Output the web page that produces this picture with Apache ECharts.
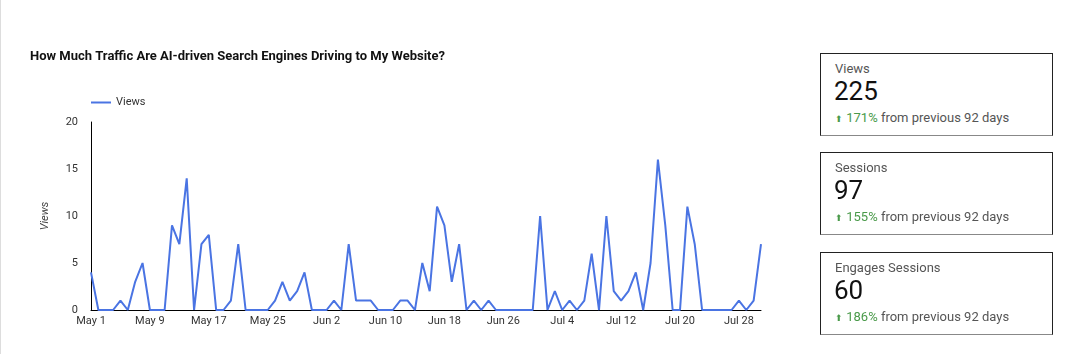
<!DOCTYPE html>
<html>
<head>
<meta charset="utf-8">
<script src="https://cdn.jsdelivr.net/npm/echarts@6/dist/echarts.min.js"></script>
<style>
  html, body { margin: 0; padding: 0; background: #fff; }
  body { width: 1082px; height: 354px; position: relative; overflow: hidden; font-family: Roboto, "Noto Sans", sans-serif; }
  #chart { position: absolute; left: 0; top: 0; width: 1082px; height: 354px; }
  .edge { position: absolute; left: 0; top: 0; width: 1px; height: 354px; background: #ddd; }
  .card { position: absolute; left: 820px; width: 233px; height: 83px; border: 1px solid #222; border-bottom-color: #888; box-sizing: border-box; background: #fff; }
  .card .label { position: absolute; left: 14px; top: 7px; font-size: 13px; color: #555; }
  .card .value { position: absolute; left: 13px; top: 22px; font-size: 26px; color: #111; }
  .card .delta { position: absolute; left: 14px; top: 56px; font-size: 13px; color: #555; white-space: nowrap; }
  .card .delta .up { color: #4a9a4a; }
  .card .delta .arr { color: #4a9a4a; font-size: 9px; }
</style>
</head>
<body>
<div class="edge"></div>
<div id="chart"></div>
<div id="cards"></div>
<script>
// month name and day count for the x categories (May 1 .. Jul 31)
const months = [['May', 31], ['Jun', 30], ['Jul', 31]]
const days = []
months.forEach(([m, n]) => { for (let d = 1; d <= n; d++) days.push(m + ' ' + d) })

const views = [
  4, 0, 0, 0, 1, 0, 3, 5, 0, 0, 0, 9, 7, 14, 0, 7, 8, 0, 0, 1, 7, 0, 0, 0, 0, 1, 3, 1, 2, 4, 0,
  0, 0, 1, 0, 7, 1, 1, 1, 0, 0, 0, 1, 1, 0, 5, 2, 11, 9, 3, 7, 0, 1, 0, 1, 0, 0, 0, 0, 0, 0,
  10, 0, 2, 0, 1, 0, 1, 6, 0, 10, 2, 1, 2, 4, 0, 5, 16, 9, 0, 0, 11, 7, 0, 0, 0, 0, 0, 1, 0, 1, 7
]

const yTicks = [0, 5, 10, 15, 20]

const cardLabels = ['Views', 'Sessions', 'Engages Sessions']
const cardValues = ['225', '97', '60']
const cardChanges = ['171%', '155%', '186%']
const cardTops = [53, 152, 252]

const cardsEl = document.getElementById('cards')
cardLabels.forEach((label, i) => {
  const el = document.createElement('div')
  el.className = 'card'
  el.style.top = cardTops[i] + 'px'
  el.innerHTML =
    '<div class="label">' + label + '</div>' +
    '<div class="value">' + cardValues[i] + '</div>' +
    '<div class="delta"><span class="arr">&#x2B06;</span> <span class="up">' + cardChanges[i] + '</span> from previous 92 days</div>'
  cardsEl.appendChild(el)
})

const chart = echarts.init(document.getElementById('chart'), null, { renderer: 'canvas' })
const blue = '#4a74e3'

chart.setOption({
  animation: false,
  textStyle: { fontFamily: 'Roboto' },
  title: {
    text: 'How Much Traffic Are AI-driven Search Engines Driving to My Website?',
    left: 25,
    top: 45,
    textStyle: { fontSize: 13, fontWeight: 'bold', color: '#111', fontFamily: 'Roboto' }
  },
  legend: {
    left: 86,
    top: 92,
    icon: 'rect',
    itemWidth: 20,
    itemHeight: 2,
    itemGap: 6,
    textStyle: { fontSize: 11, color: '#333' },
    data: ['Views']
  },
  grid: { left: 91, right: 321, top: 122, bottom: 44, containLabel: false },
  xAxis: {
    type: 'category',
    data: days,
    boundaryGap: false,
    axisLine: { lineStyle: { color: '#000', width: 1 } },
    axisTick: { show: false },
    axisLabel: { interval: 7, color: '#333', fontSize: 11, margin: 6 },
    splitLine: { show: false }
  },
  yAxis: {
    type: 'value',
    min: yTicks[0],
    max: yTicks[yTicks.length - 1],
    interval: 5,
    name: 'Views',
    nameLocation: 'middle',
    nameRotate: 90,
    nameGap: 40,
    nameTextStyle: { color: '#444', fontSize: 11, fontStyle: 'italic' },
    axisLine: { show: true, lineStyle: { color: '#000', width: 1 } },
    axisTick: { show: false },
    axisLabel: { color: '#333', fontSize: 11, margin: 13 },
    splitLine: { show: false }
  },
  series: [{
    name: 'Views',
    type: 'line',
    data: views,
    symbol: 'none',
    lineStyle: { color: blue, width: 2 },
    itemStyle: { color: blue }
  }]
})
</script>
</body>
</html>
